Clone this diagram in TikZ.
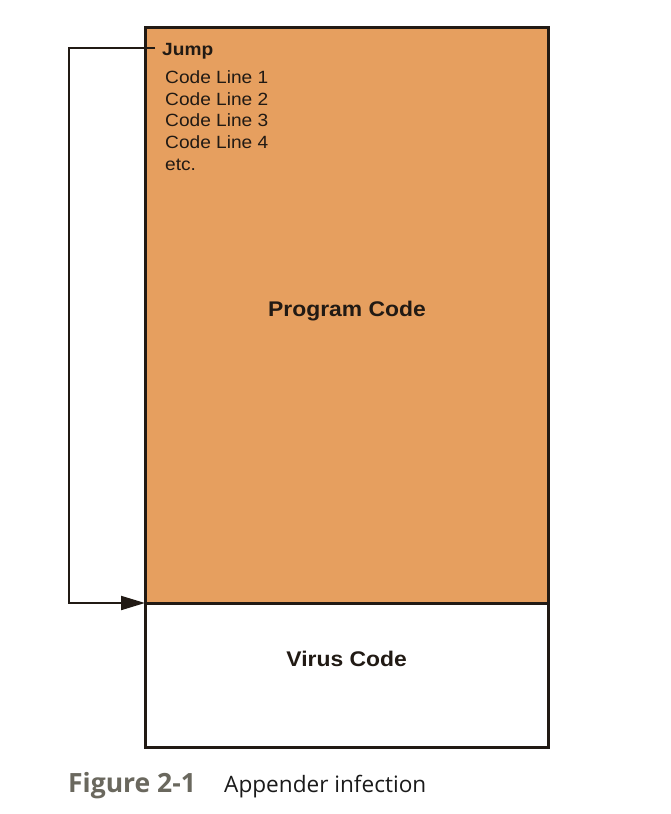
\documentclass[tikz,border=0pt]{standalone}
\usepackage{fontspec}
\usetikzlibrary{arrows.meta}
\newfontfamily\arialfont{Liberation Sans}[FakeStretch=1.08]
\newfontfamily\capfont{Open Sans}
\definecolor{progfill}{HTML}{E69F5F}
\definecolor{ink}{HTML}{211A14}
\definecolor{capgray}{HTML}{6A685E}
\definecolor{capink}{HTML}{1A1A1A}
\begin{document}
\begin{tikzpicture}[x=1pt,y=-1pt,
  box/.style={draw=ink, line width=3pt, outer sep=0pt, inner sep=0pt, anchor=north west},
  codetxt/.style={anchor=base west, inner sep=0pt, text=ink, font=\arialfont\fontsize{17.7}{20}\selectfont},
  bigtxt/.style={anchor=base, inner sep=0pt, text=ink, font=\arialfont\bfseries\fontsize{21.2}{24}\selectfont},
  link/.style={draw=ink, line width=2pt},
  captxt/.style={anchor=base west, inner sep=0pt}]
\useasboundingbox (0,0) rectangle (671,814);
\node[box, fill=progfill, minimum width=403pt, minimum height=576pt] (prog) at (145,27) {};
\node[box, fill=white, minimum width=403pt, minimum height=144pt] (virus) at (145,603) {};
\node[codetxt, font=\arialfont\bfseries\fontsize{17.7}{20}\selectfont] (jump) at (162,55) {Jump};
\node[codetxt] (l1) at (165,83.3) {Code Line 1};
\node[codetxt] (l2) at (165,105) {Code Line 2};
\node[codetxt] (l3) at (165,126.7) {Code Line 3};
\node[codetxt] (l4) at (165,148.3) {Code Line 4};
\node[codetxt] (etc) at (165,170.5) {etc.};
\node[bigtxt] (progtxt) at (347,316.7) {Program Code};
\node[bigtxt] (virustxt) at (346.7,666.7) {Virus Code};
\coordinate (jtick) at (155,48.3);
\coordinate (jcorner) at (68.5,48.3);
\draw[link, -{Triangle[length=24pt,width=14pt]}] (jtick) -- (jcorner) |- (virus.north west);
\node[captxt, font=\capfont\bfseries\fontsize{26.5}{30}\selectfont, text=capgray] (fig) at (68,792) {Figure 2-1};
\node[captxt, font=\capfont\fontsize{22.6}{26}\selectfont, text=capink] (cap) at (224,792) {Appender infection};
\end{tikzpicture}
\end{document}
